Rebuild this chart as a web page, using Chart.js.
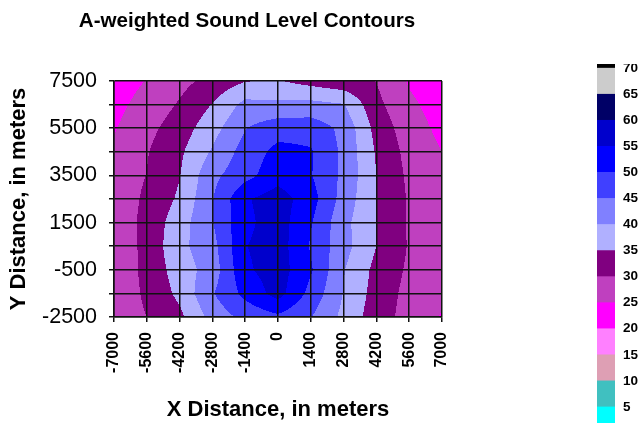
<!DOCTYPE html>
<html>
<head>
<meta charset="utf-8">
<script src="https://cdn.jsdelivr.net/npm/chart.js@4.4.1/dist/chart.umd.min.js"></script>
<style>
  html, body { margin: 0; padding: 0; background: #fff; overflow: hidden; }
  #wrap { position: relative; width: 639px; height: 423px; overflow: hidden; background: #fff; }
  #main { position: absolute; left: 0; top: 0; }
  #legbox { position: absolute; left: 560px; top: 64px; width: 79px; height: 359px; overflow: hidden; }
  #leg { position: absolute; left: 0; top: -30px; }
</style>
</head>
<body>
<div id="wrap">
  <canvas id="main" width="494" height="423"></canvas>
  <div id="legbox"><canvas id="leg" width="79" height="430"></canvas></div>
</div>
<script>
// ---- data ----
const xNodes = [-7000, -5600, -4200, -2800, -1400, 0, 1400, 2800, 4200, 5600, 7000];
const yNodes = [7500, 6500, 5500, 4500, 3500, 2500, 1500, 500, -500, -1500, -2500];
const yTickLabelValues = [7500, 5500, 3500, 1500, -500, -2500];

// sound level (dBA) at each grid node, one array per Y row (columns follow xNodes)
const lvl7500  = [22.5, 25.2, 28.5, 31.6, 34.8, 35.3, 33.3, 31.6, 29.9, 24.5, 22.5];
const lvl6500  = [23.5, 26.9, 30.5, 35.2, 41.5, 41.0, 41.5, 40.3, 31.3, 25.9, 23.0];
const lvl5500  = [24.6, 28.6, 32.4, 38.1, 44.8, 48.0, 48.0, 43.7, 33.3, 27.2, 23.8];
const lvl4500  = [26.0, 29.7, 34.1, 40.6, 47.1, 51.5, 50.5, 43.9, 34.5, 28.3, 25.0];
const lvl3500  = [27.0, 30.1, 34.8, 43.7, 48.3, 53.0, 50.3, 43.9, 35.0, 29.0, 27.0];
const lvl2500  = [26.5, 31.0, 35.8, 44.7, 54.4, 57.5, 52.1, 43.0, 35.0, 29.5, 27.0];
const lvl1500  = [26.5, 31.6, 37.7, 44.8, 53.8, 57.5, 50.4, 41.5, 35.0, 29.4, 27.0];
const lvl500   = [26.5, 31.4, 38.7, 43.2, 54.8, 57.5, 49.5, 41.8, 35.0, 29.6, 27.0];
const lvlM500  = [26.5, 31.3, 37.5, 42.2, 54.1, 57.5, 50.6, 40.3, 33.6, 29.2, 27.0];
const lvlM1500 = [26.5, 30.9, 36.2, 44.6, 51.4, 57.0, 48.4, 39.8, 33.0, 28.5, 26.0];
const lvlM2500 = [27.0, 30.0, 33.8, 41.9, 46.5, 49.0, 45.2, 38.7, 32.3, 28.2, 24.6];

const bandLevels = [0, 5, 10, 15, 20, 25, 30, 35, 40, 45, 50, 55, 60, 65, 70];
const bandColors = ['#00FFFF', '#40C0C0', '#DE9FB4', '#FF80FF', '#FF00FF', '#BF40BF', '#800080',
                    '#B0B0FF', '#8080FF', '#4040FF', '#0000FF', '#0000CC', '#000066', '#CCCCCC', '#000000'];
const legendTicks = [5, 10, 15, 20, 25, 30, 35, 40, 45, 50, 55, 60, 65, 70];
const legendMax = 70.8;

const grid = [lvl7500, lvl6500, lvl5500, lvl4500, lvl3500, lvl2500, lvl1500, lvl500, lvlM500, lvlM1500, lvlM2500];

// ---- helpers ----
const FONT = "'Liberation Sans', Arial, Helvetica, sans-serif";
function hexToRgb(h) { return [parseInt(h.substr(1,2),16), parseInt(h.substr(3,2),16), parseInt(h.substr(5,2),16)]; }
const bandRgb = bandColors.map(hexToRgb);

function findIdx(nodes, v, descending) {
  for (let i = 0; i < nodes.length - 1; i++) {
    const a = nodes[i], b = nodes[i + 1];
    if (descending ? (v <= a && v >= b) : (v >= a && v <= b)) return i;
  }
  return descending ? (v > nodes[0] ? 0 : nodes.length - 2) : (v < nodes[0] ? 0 : nodes.length - 2);
}
function levelAt(xv, yv) {
  const i = findIdx(xNodes, xv, false);
  const j = findIdx(yNodes, yv, true);
  const tx = Math.min(1, Math.max(0, (xv - xNodes[i]) / (xNodes[i + 1] - xNodes[i])));
  const ty = Math.min(1, Math.max(0, (yNodes[j] - yv) / (yNodes[j] - yNodes[j + 1])));
  const z00 = grid[j][i], z10 = grid[j][i + 1], z01 = grid[j + 1][i], z11 = grid[j + 1][i + 1];
  return (z00 * (1 - tx) + z10 * tx) * (1 - ty) + (z01 * (1 - tx) + z11 * tx) * ty;
}
function bandIndex(v) {
  let k = 0;
  for (let b = 0; b < bandLevels.length; b++) if (v >= bandLevels[b]) k = b;
  return k;
}

const contourPlugin = {
  id: 'contour',
  beforeDatasetsDraw(chart) {
    const { ctx, chartArea: a, scales } = chart;
    const xs = scales.x, ys = scales.y;
    const L = Math.round(a.left), T = Math.round(a.top);
    const W = Math.round(a.right) - L, H = Math.round(a.bottom) - T;
    const img = ctx.createImageData(W, H);
    const d = img.data;
    for (let r = 0; r < H; r++) {
      const yv = ys.getValueForPixel(T + r + 0.5);
      for (let c = 0; c < W; c++) {
        const xv = xs.getValueForPixel(L + c + 0.5);
        const rgb = bandRgb[bandIndex(levelAt(xv, yv))];
        const p = (r * W + c) * 4;
        d[p] = rgb[0]; d[p + 1] = rgb[1]; d[p + 2] = rgb[2]; d[p + 3] = 255;
      }
    }
    ctx.putImageData(img, L, T);
  }
};

const lineCol = '#111111';

new Chart(document.getElementById('main'), {
  type: 'scatter',
  data: { datasets: [{ data: [], pointRadius: 0 }] },
  plugins: [contourPlugin],
  options: {
    responsive: false,
    animation: false,
    layout: { padding: 0 },
    plugins: {
      legend: { display: false },
      tooltip: { enabled: false },
      title: {
        display: true,
        text: 'A-weighted Sound Level Contours',
        color: '#000',
        font: { family: FONT, size: 20.6, weight: 'bold' },
        padding: { top: 9, bottom: 47.3 }
      }
    },
    scales: {
      x: {
        type: 'linear', min: -7000, max: 7000, z: 1,
        afterBuildTicks: s => { s.ticks = xNodes.map(v => ({ value: v })); },
        afterFit: s => { s.height = 106; },
        ticks: {
          autoSkip: false, maxRotation: 90, minRotation: 90, padding: 10, color: '#000',
          font: { family: FONT, size: 16, weight: 'bold' },
          callback: v => String(v)
        },
        grid: { color: lineCol, lineWidth: 1.5, tickLength: 5, drawTicks: true, z: 1 },
        border: { display: true, color: lineCol, width: 1.5, z: 1 },
        title: {
          display: true, text: 'X Distance, in meters', color: '#000',
          font: { family: FONT, size: 22, weight: 'bold' }, padding: { top: 0, bottom: 0 }
        }
      },
      y: {
        type: 'linear', min: -2500, max: 7500, position: 'left', z: 1,
        afterBuildTicks: s => { s.ticks = yNodes.map(v => ({ value: v })); },
        afterFit: s => { s.width = 114; },
        ticks: {
          autoSkip: false, padding: 12, color: '#000',
          font: { family: FONT, size: 21.5, weight: 'normal' },
          callback: v => (yTickLabelValues.includes(v) ? String(v) : '')
        },
        grid: { color: lineCol, lineWidth: 1.5, tickLength: 5, drawTicks: true, z: 1 },
        border: { display: true, color: lineCol, width: 1.5, z: 1 },
        title: {
          display: true, text: 'Y Distance, in meters', color: '#000',
          font: { family: FONT, size: 22, weight: 'bold' }, padding: { top: 6, bottom: 0 }
        }
      },
      yRight: {
        type: 'linear', position: 'right', min: 0, max: 1,
        afterFit: s => { s.width = 52; },
        ticks: { display: false },
        grid: { display: false, drawTicks: false },
        border: { display: false }
      }
    }
  }
});

// ---- colour key ----
new Chart(document.getElementById('leg'), {
  type: 'bar',
  data: {
    labels: [''],
    datasets: bandLevels.map((lo, i) => ({
      data: [[lo, i + 1 < bandLevels.length ? bandLevels[i + 1] : legendMax]],
      backgroundColor: bandColors[i],
      borderWidth: 0,
      grouped: false,
      barPercentage: 1,
      categoryPercentage: 1
    }))
  },
  options: {
    responsive: false,
    animation: false,
    layout: { padding: { left: 37, right: 0, top: 30, bottom: 31 } },
    plugins: { legend: { display: false }, tooltip: { enabled: false }, title: { display: false } },
    scales: {
      x: { display: false },
      y: {
        position: 'right', min: 0, max: legendMax,
        afterBuildTicks: s => { s.ticks = legendTicks.map(v => ({ value: v })); },
        afterFit: s => { s.width = 24; },
        ticks: { padding: 8, color: '#000', font: { family: FONT, size: 13.5, weight: 'bold' }, autoSkip: false },
        grid: { display: false, drawTicks: false },
        border: { display: false }
      }
    }
  }
});
</script>
</body>
</html>
